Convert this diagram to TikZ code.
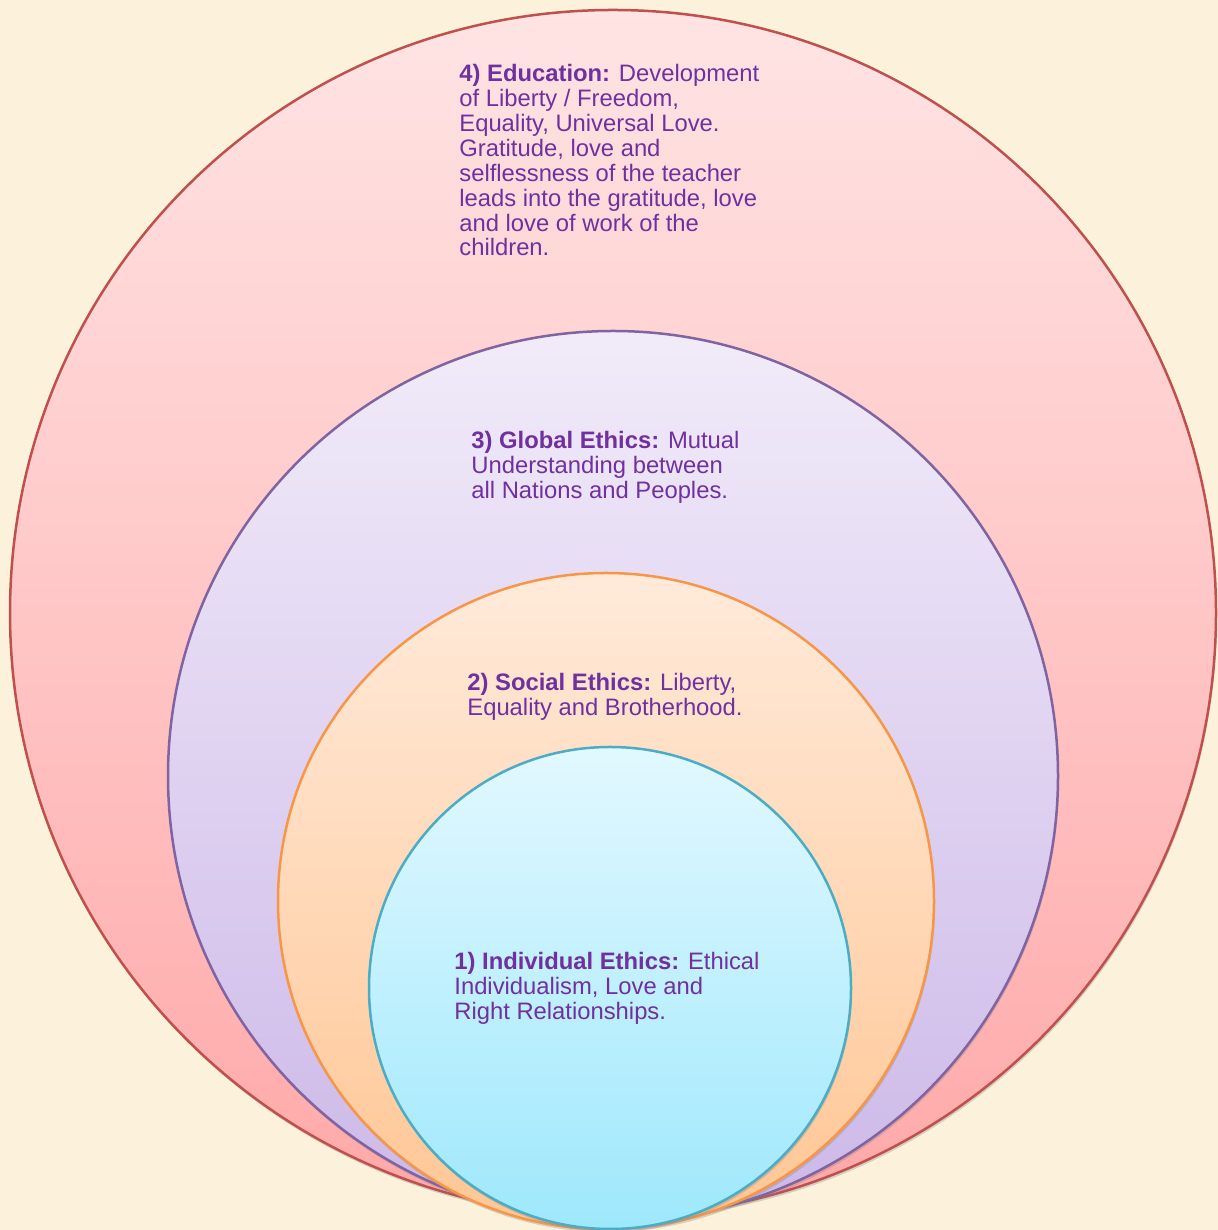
\documentclass[tikz,border=0pt]{standalone}
\usepackage{fontspec}
\setmainfont{Liberation Sans}
\usetikzlibrary{shadows}
\definecolor{bg}{RGB}{252,242,220}
\definecolor{redline}{RGB}{192,80,77}
\definecolor{redtop}{RGB}{255,228,228}
\definecolor{redbot}{RGB}{255,168,168}
\definecolor{purline}{RGB}{128,100,162}
\definecolor{purtop}{RGB}{241,235,249}
\definecolor{purbot}{RGB}{204,184,232}
\definecolor{oraline}{RGB}{247,150,70}
\definecolor{oratop}{RGB}{255,234,218}
\definecolor{orabot}{RGB}{255,198,148}
\definecolor{cyaline}{RGB}{75,172,198}
\definecolor{cyatop}{RGB}{226,248,255}
\definecolor{cyabot}{RGB}{158,232,252}
\definecolor{txt}{RGB}{112,48,160}
\begin{document}
\begin{tikzpicture}[x=0.5pt,y=0.5pt,
  ring/.style={circle, inner sep=0pt, line width=1.25pt,
    drop shadow={opacity=0.3, shadow xshift=0.5pt, shadow yshift=-1.5pt}},
  lbl/.style={anchor=north west, inner sep=0pt, align=left, text=txt,
    font=\fontsize{11.9}{12.45}\selectfont}]
\fill[bg] (0,0) rectangle (1218,1230);
\useasboundingbox (0,0) rectangle (1218,1230);
\node[ring, draw=redline, top color=redtop, bottom color=redbot, minimum size=603pt] (edu) at (613,617) {};
\node[ring, draw=purline, top color=purtop, bottom color=purbot, minimum size=445pt] (glob) at (613,454) {};
\node[ring, draw=oraline, top color=oratop, bottom color=orabot, minimum size=328pt] (soc) at (606,329) {};
\node[ring, draw=cyaline, top color=cyatop, bottom color=cyabot, minimum size=241pt] (ind) at (610,242) {};
\node[lbl] (tedu) at (459,1166) {\textbf{4) Education:} Development\\of Liberty / Freedom,\\Equality, Universal Love.\\Gratitude, love and\\selflessness of the teacher\\leads into the gratitude, love\\and love of work of the\\children.};
\node[lbl] (tglob) at (471,799) {\textbf{3) Global Ethics:} Mutual\\Understanding between\\all Nations and Peoples.};
\node[lbl] (tsoc) at (467,557) {\textbf{2) Social Ethics:} Liberty,\\Equality and Brotherhood.};
\node[lbl] (tind) at (454,278) {\textbf{1) Individual Ethics:} Ethical\\Individualism, Love and\\Right Relationships.};
\end{tikzpicture}
\end{document}
